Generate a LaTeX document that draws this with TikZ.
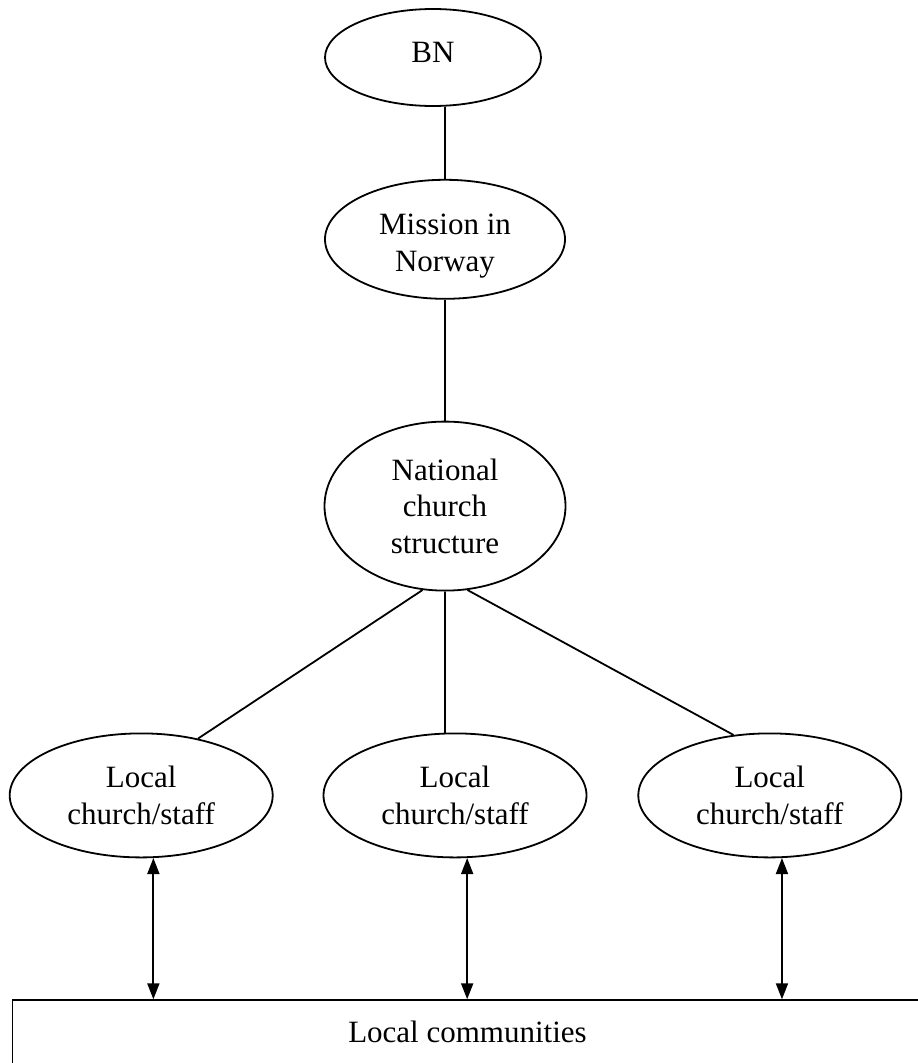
\documentclass[tikz,border=0pt]{standalone}
\usepackage{fontspec}
\setmainfont{Liberation Serif}
\usetikzlibrary{shapes,arrows.meta,positioning}

\begin{document}
\begin{tikzpicture}[
    x=1pt, y=1pt,
    oval/.style={ellipse, draw, line width=1.8pt, inner sep=0pt, align=center, font=\fontsize{31}{36.5}\selectfont},
    link/.style={line width=1.8pt},
    dblarrow/.style={{Triangle[length=16pt,width=12pt]}-{Triangle[length=16pt,width=12pt]}, line width=1.8pt}
]
\useasboundingbox (0,0) rectangle (918,-1063);

% Top of the chain
\node[oval, minimum width=216pt, minimum height=97pt, text depth=10pt] (bn) at (433,-57.5) {BN};
\node[oval, minimum width=240pt, minimum height=119pt, below=72pt of bn, xshift=12pt] (mission) {\rule{0pt}{34pt}Mission in\\Norway};
\node[oval, minimum width=241pt, minimum height=169pt, below=121pt of mission] (national) {National\\church\\structure};

% Local level
\node[oval, minimum width=263pt, minimum height=124pt, below=141pt of national, xshift=10pt] (local2) {Local\\church/staff};
\node[oval, minimum width=263pt, minimum height=124pt, left=49pt of local2] (local1) {Local\\church/staff};
\node[oval, minimum width=263pt, minimum height=124pt, right=50pt of local2] (local3) {Local\\church/staff};

% Communities
\node[draw, rectangle, line width=1.8pt, inner sep=0pt, minimum width=910pt, text height=42pt, text depth=35pt, font=\fontsize{31}{36.5}\selectfont, below=141pt of local2, xshift=12.5pt] (comm) {Local communities};

% Lines
\draw[link] (bn.south -| mission.north) -- (mission.north);
\draw[link] (mission.south) -- (national.north);
\draw[link] (national.-105) -- (local1.45);
\draw[link] (national.south) -- (national.south |- local2.north);
\draw[link] (national.-75) -- (local3.121);

% Two-way arrows
\foreach \n in {local1,local2,local3}
  \draw[dblarrow] (\n.-79) -- (\n.-79 |- comm.north);

\end{tikzpicture}
\end{document}
